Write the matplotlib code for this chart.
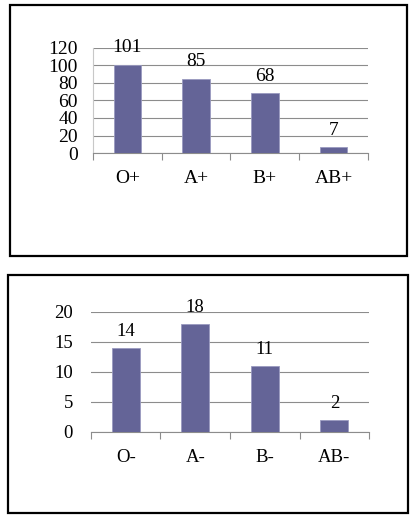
import numpy as np
import matplotlib
matplotlib.use("Agg")
import matplotlib.pyplot as plt
from matplotlib.patches import Rectangle

# blood groups, positive and negative
pos_groups = ["O+", "A+", "B+", "AB+"]
pos_counts = [101, 85, 68, 7]
pos_yticks = [0, 20, 40, 60, 80, 100, 120]

neg_groups = ["O-", "A-", "B-", "AB-"]
neg_counts = [14, 18, 11, 2]
neg_yticks = [0, 5, 10, 15, 20]

bar_color = "#646497"
grid_color = "#8c8c8c"

plt.rcParams["font.family"] = ["Liberation Serif", "DejaVu Serif"]

fig = plt.figure(figsize=(4.19, 5.32), dpi=100)

# outer frames round each chart
fig.patches.append(Rectangle((0.024, 0.519), 0.947, 0.472, transform=fig.transFigure,
                             fill=False, edgecolor="black", linewidth=1.6))
fig.patches.append(Rectangle((0.019, 0.036), 0.955, 0.447, transform=fig.transFigure,
                             fill=False, edgecolor="black", linewidth=1.6))


def draw_panel(rect, groups, counts, yticks, fs, ypad, left_line):
    ax = fig.add_axes(rect)
    x = np.arange(len(groups))
    ax.bar(x, counts, width=0.4, color=bar_color, edgecolor="#9a9ac0", linewidth=0.6, zorder=3)
    ax.set_xlim(-0.5, len(groups) - 0.5)
    ax.set_ylim(yticks[0], yticks[-1])
    ax.set_yticks(yticks)
    ax.yaxis.grid(True, color=grid_color, linewidth=0.8, zorder=0)
    ax.set_axisbelow(True)
    ax.tick_params(axis="y", length=0, pad=ypad, labelsize=fs)
    ax.set_xticks(x)
    ax.set_xticklabels(groups)
    ax.tick_params(axis="x", which="major", length=0, pad=12, labelsize=fs)
    ax.set_xticks(np.arange(len(groups) + 1) - 0.5, minor=True)
    ax.tick_params(axis="x", which="minor", length=5, color=grid_color, width=0.8)
    for s in ["top", "right"]:
        ax.spines[s].set_visible(False)
    ax.spines["bottom"].set_color(grid_color)
    ax.spines["bottom"].set_linewidth(0.8)
    if left_line:
        ax.spines["left"].set_color("#c8c8c8")
        ax.spines["left"].set_linewidth(0.8)
    else:
        ax.spines["left"].set_visible(False)
    for xi, v in zip(x, counts):
        ax.annotate(str(v), (xi, v), xytext=(0, 6), textcoords="offset points",
                    ha="center", va="bottom", fontsize=fs, clip_on=False)
    return ax


draw_panel([0.222, 0.7124, 0.656, 0.1974], pos_groups, pos_counts, pos_yticks, 14, 11, True)
draw_panel([0.217, 0.188, 0.664, 0.2256], neg_groups, neg_counts, neg_yticks, 13.5, 13, False)

fig.savefig("out.png", dpi=100)
